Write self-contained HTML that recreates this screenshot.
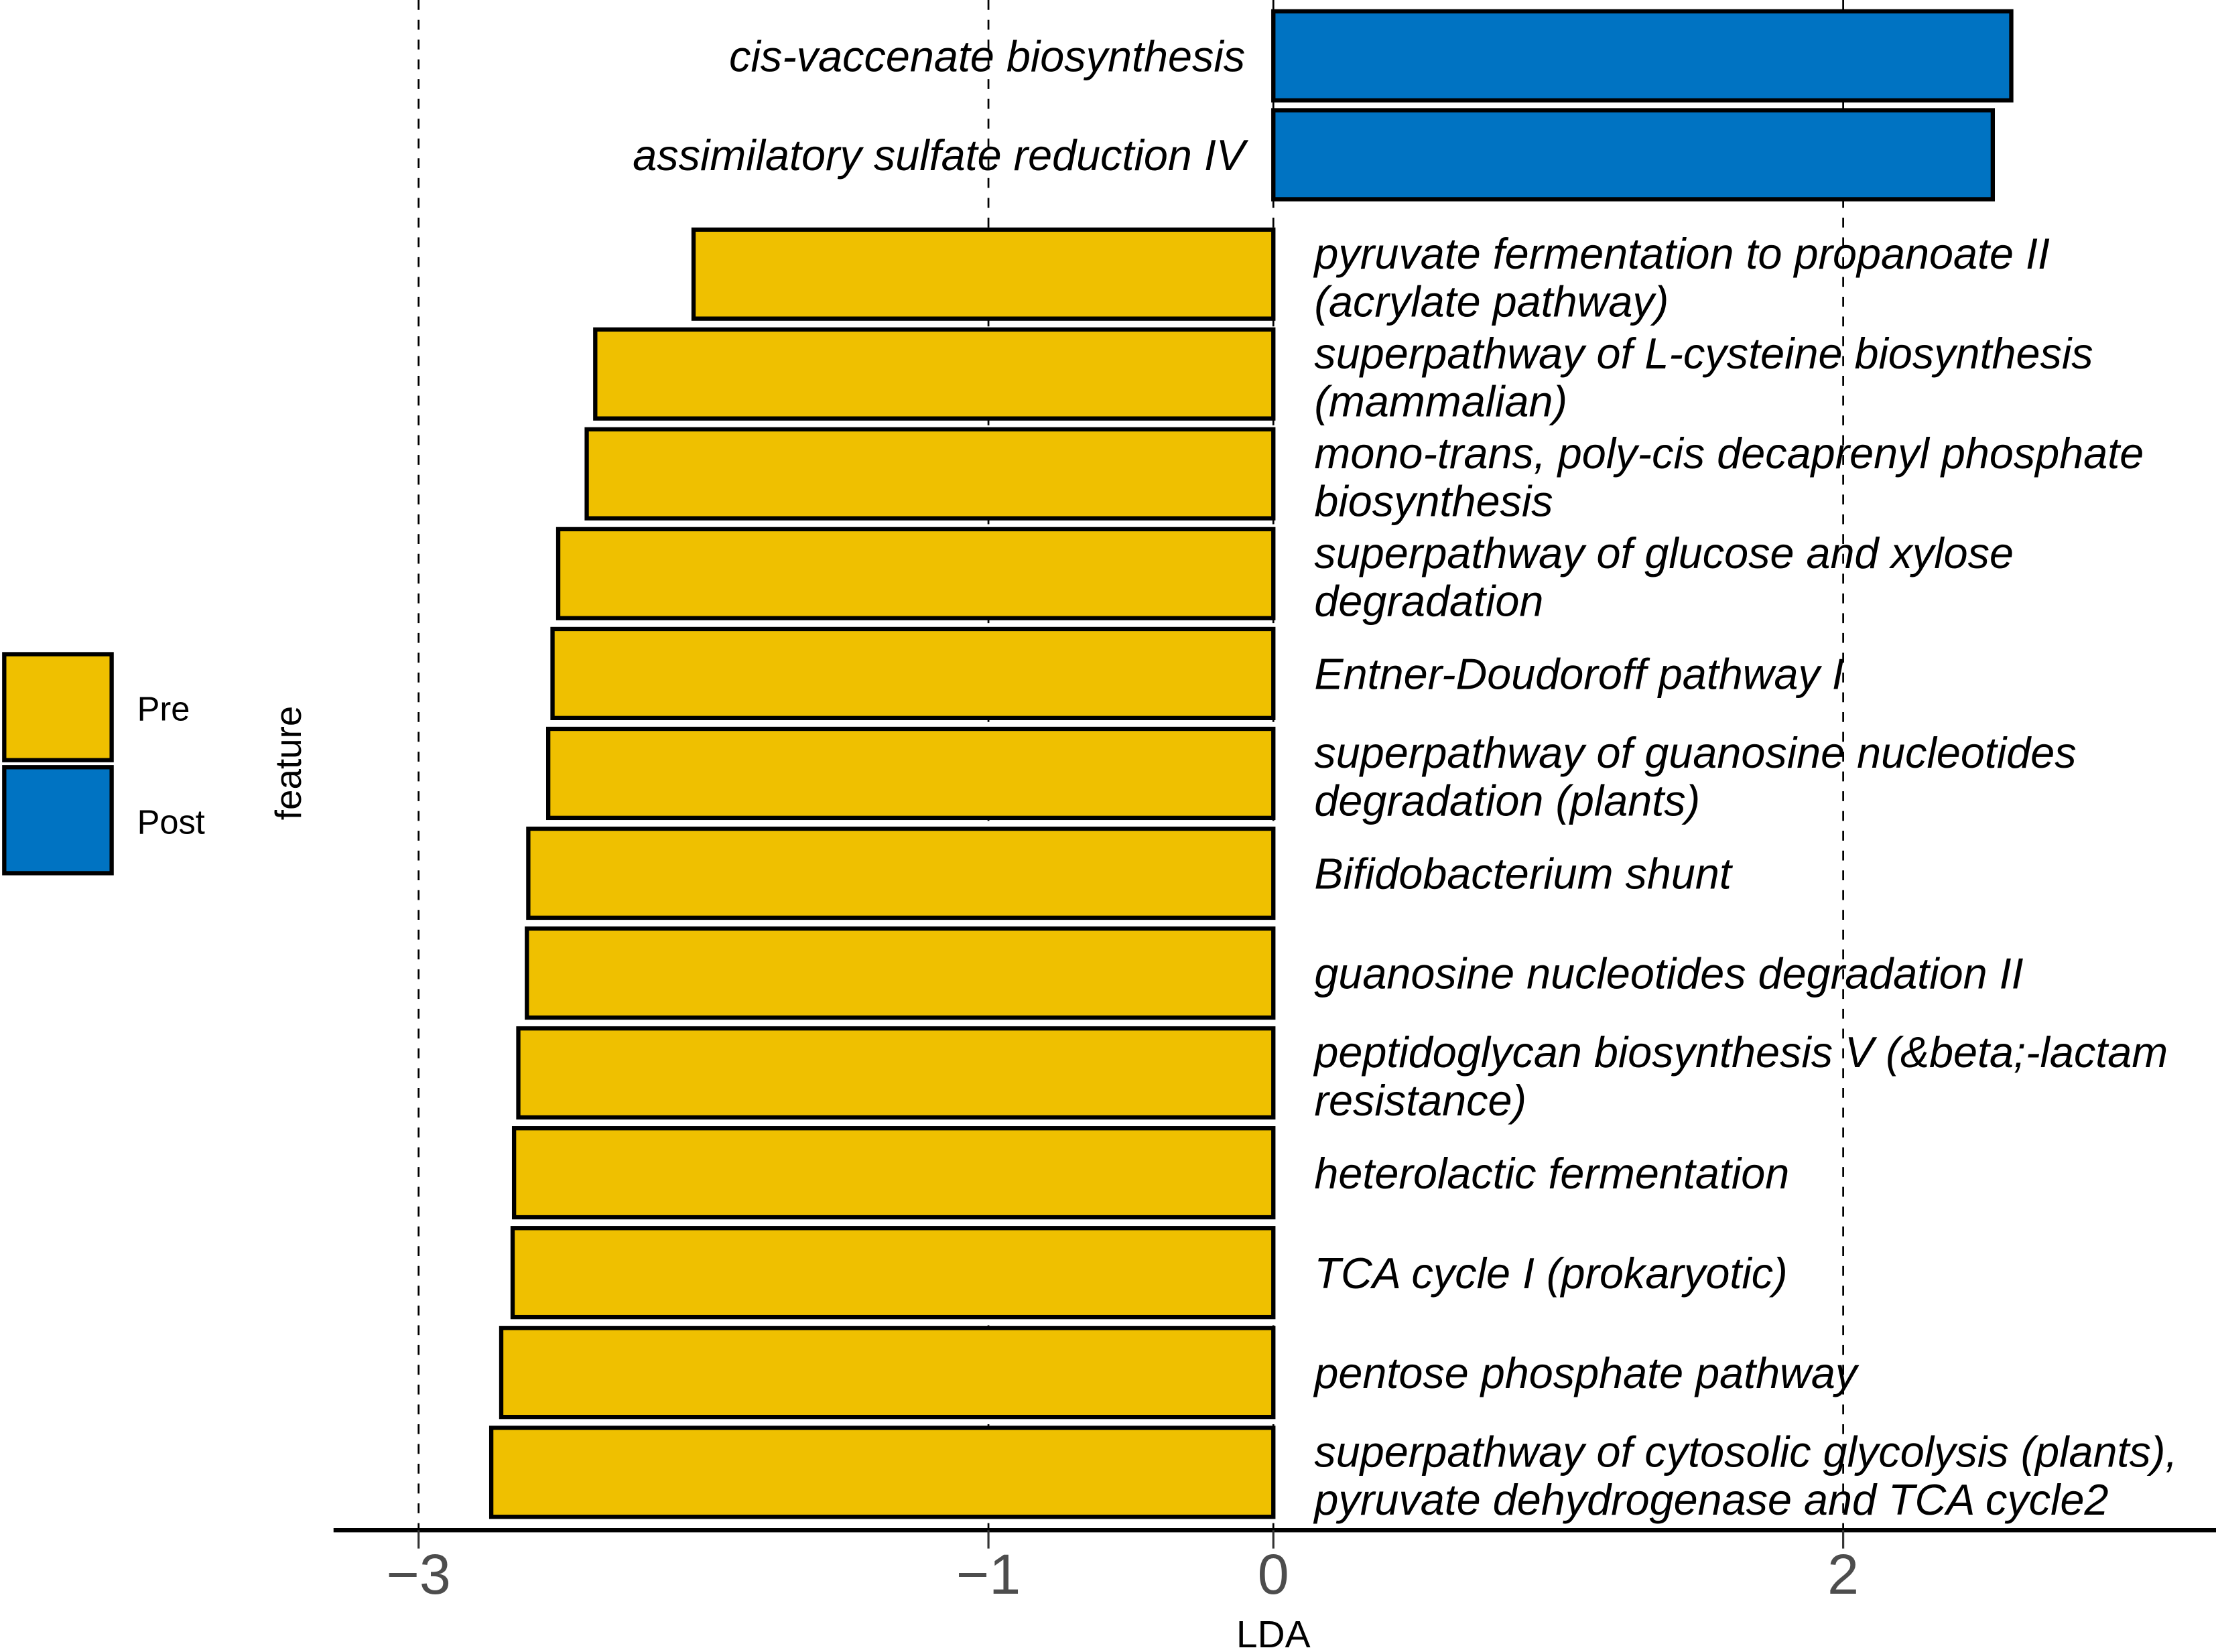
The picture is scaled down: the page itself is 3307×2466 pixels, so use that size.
<!DOCTYPE html>
<html><head><meta charset="utf-8"><style>html,body{margin:0;padding:0;background:#fff}svg{display:block}text{font-family:"Liberation Sans",sans-serif}</style></head>
<body>
<svg id="chart" xmlns="http://www.w3.org/2000/svg" width="3307" height="2466" viewBox="0 0 1568 1169.2">
<g id="grid"></g>
<g id="bars"></g>
<g id="labels"></g>
<g id="axis"></g>
<text x="901" y="1166" font-size="27" text-anchor="middle">LDA</text>
<text transform="translate(213,540) rotate(-90)" font-size="26" text-anchor="middle">feature</text>
<g>
<rect x="3" y="463" width="76" height="75" fill="#EFC000" stroke="#000" stroke-width="3"/>
<rect x="3" y="543" width="76" height="75" fill="#0073C2" stroke="#000" stroke-width="3"/>
<text x="97" y="510" font-size="24">Pre</text>
<text x="97" y="590" font-size="24">Post</text>
</g>
</svg>
<script>
const features = [
 ["cis-vaccenate biosynthesis"],
 ["assimilatory sulfate reduction IV"],
 ["pyruvate fermentation to propanoate II","(acrylate pathway)"],
 ["superpathway of L-cysteine biosynthesis","(mammalian)"],
 ["mono-trans, poly-cis decaprenyl phosphate","biosynthesis"],
 ["superpathway of glucose and xylose","degradation"],
 ["Entner-Doudoroff pathway I"],
 ["superpathway of guanosine nucleotides","degradation (plants)"],
 ["Bifidobacterium shunt"],
 ["guanosine nucleotides degradation II"],
 ["peptidoglycan biosynthesis V (&beta;-lactam","resistance)"],
 ["heterolactic fermentation"],
 ["TCA cycle I (prokaryotic)"],
 ["pentose phosphate pathway"],
 ["superpathway of cytosolic glycolysis (plants),","pyruvate dehydrogenase and TCA cycle2"]
];
const ldaValues = [2.59,2.525,-2.035,-2.38,-2.41,-2.51,-2.53,-2.545,-2.615,-2.62,-2.65,-2.665,-2.67,-2.71,-2.745];
const groups = ["Post","Post","Pre","Pre","Pre","Pre","Pre","Pre","Pre","Pre","Pre","Pre","Pre","Pre","Pre"];
const tickValues = [-3,-1,0,2];
const tickLabels = ["\u22123","\u22121","0","2"];
const colors = {Pre:"#EFC000", Post:"#0073C2"};
const NS="http://www.w3.org/2000/svg";
const x = v => 901 + v*201.6;
const yCenter = i => i<2 ? 39.5 + i*70 : 194 + (i-2)*70.67;
const barH = 63;
function mk(tag, attrs, parent){const e=document.createElementNS(NS,tag);for(const k in attrs)e.setAttribute(k,attrs[k]);parent.appendChild(e);return e;}
const grid=document.getElementById('grid'), bars=document.getElementById('bars'), labels=document.getElementById('labels'), axis=document.getElementById('axis');
tickValues.forEach((t,i)=>{
  const l=mk('line',{x1:x(t),x2:x(t),y1:0,y2:1083,stroke:'#000','stroke-width':1.3,'stroke-dasharray':'7,7'},grid);
  
  
});
ldaValues.forEach((v,i)=>{
  const x0=Math.min(x(0),x(v)), w=Math.abs(x(v)-x(0));
  const r=mk('rect',{x:x0,y:yCenter(i)-barH/2,width:w,height:barH,fill:colors[groups[i]],stroke:'#000','stroke-width':3},bars);
  
  
  const lines=features[i];
  const c=yCenter(i);
  const post=v>0;
  const t=mk('text',{x:post?881:930,'font-size':30.7,'font-style':'italic','text-anchor':post?'end':'start'},labels);
  
  
  if(lines.length===1){t.setAttribute('y',c+11);t.textContent=lines[0];}
  else{
    lines.forEach((s,j)=>{const ts=mk('tspan',{x:930,y:c-4+j*34},t);ts.textContent=s;});
  }
});
const al=mk('line',{x1:236,x2:1568,y1:1083,y2:1083,stroke:'#000','stroke-width':3},axis);


tickValues.forEach((t,i)=>{
  const tk=mk('line',{x1:x(t),x2:x(t),y1:1083,y2:1096,stroke:'#333','stroke-width':1.5},axis);
  
  
  const tl=mk('text',{x:x(t),y:1128,'font-size':40,fill:'#4d4d4d','text-anchor':'middle'},axis);
  
  
  tl.textContent=tickLabels[i];
});
</script>
</body></html>
